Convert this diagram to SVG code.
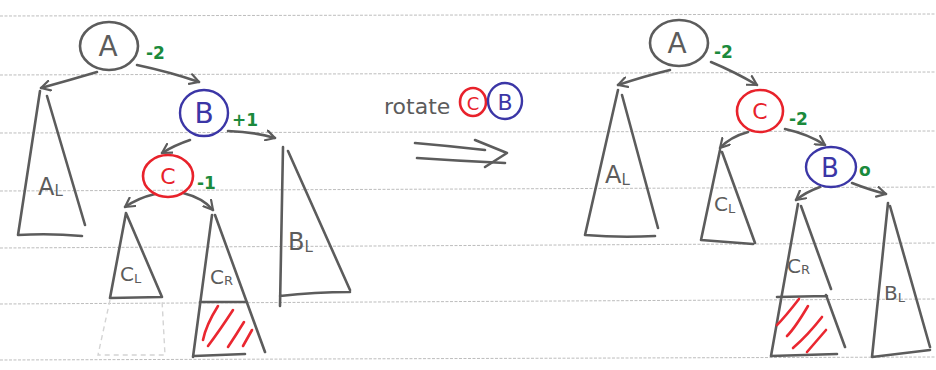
<svg xmlns="http://www.w3.org/2000/svg" width="936" height="370" viewBox="0 0 936 370">
<defs>
<style>
.paper{stroke:#bdbdbd;stroke-width:1;stroke-dasharray:3 1.5;fill:none}
.ink{stroke:#5c5c5c;stroke-width:2.6;fill:none;stroke-linecap:round;stroke-linejoin:round}
.faint{stroke:#d4d4d4;stroke-width:1.4;fill:none;stroke-dasharray:5 4}
.red{stroke:#e8222b;stroke-width:2.6;fill:none;stroke-linecap:round}
.blue{stroke:#3b36a6;stroke-width:2.4;fill:none}
.hatch{stroke:#ea2730;stroke-width:2.6;fill:none;stroke-linecap:round}
.lbl{font-family:"DejaVu Sans","Liberation Sans",sans-serif;fill:#5c5c5c}
.bal{font-family:"DejaVu Sans","Liberation Sans",sans-serif;fill:#1b8a3c;font-weight:bold;font-size:17px}
</style>
<marker id="ah" viewBox="0 0 12 12" refX="10" refY="6" markerWidth="12" markerHeight="12" markerUnits="userSpaceOnUse" orient="auto">
<path d="M1,1 L10,6 L1,11" fill="none" stroke="#5c5c5c" stroke-width="2.2" stroke-linecap="round" stroke-linejoin="round"/>
</marker>
</defs>
<rect width="936" height="370" fill="#ffffff"/>
<g id="paper">
<line class="paper" x1="0" y1="16" x2="936" y2="14"/>
<line class="paper" x1="0" y1="75" x2="936" y2="72"/>
<line class="paper" x1="0" y1="133" x2="936" y2="131"/>
<line class="paper" x1="0" y1="191" x2="936" y2="187"/>
<line class="paper" x1="0" y1="248" x2="936" y2="243"/>
<line class="paper" x1="0" y1="304" x2="936" y2="299"/>
<line class="paper" x1="0" y1="360" x2="936" y2="357"/>
</g>
<g id="connectors">
<path class="ink" d="M97,72 Q70,80 41,88" marker-end="url(#ah)"/>
<path class="ink" d="M137,65 Q170,72 199,82" marker-end="url(#ah)" stroke="#8a8a8a"/>
<path class="ink" d="M190,140 Q175,145 162,153" marker-end="url(#ah)"/>
<path class="ink" d="M228,131 Q255,132 275,138" marker-end="url(#ah)"/>
<path class="ink" d="M155,194 Q138,198 125,207" marker-end="url(#ah)"/>
<path class="ink" d="M183,193 Q203,198 213,210" marker-end="url(#ah)"/>
<path class="ink" d="M670,70 Q645,76 618,85" marker-end="url(#ah)"/>
<path class="ink" d="M711,62 Q735,72 757,85" marker-end="url(#ah)"/>
<path class="ink" d="M748,132 Q730,137 720,148" marker-end="url(#ah)"/>
<path class="ink" d="M785,129 Q808,134 825,145" marker-end="url(#ah)"/>
<path class="ink" d="M820,187 Q806,192 796,200" marker-end="url(#ah)"/>
<path class="ink" d="M852,183 Q870,190 886,194" marker-end="url(#ah)"/>
<path class="ink" d="M415,143 Q450,146 485,150"/>
<path class="ink" d="M417,158 Q460,161 505,163"/>
<path class="ink" d="M475,140 L507,153 L485,167"/>
</g>
<g id="rotate-label">
<text class="lbl" x="384" y="114" font-size="22">rotate</text>
<ellipse class="red" cx="473" cy="102" rx="13" ry="14"/>
<text x="473" y="110" font-family="DejaVu Sans,sans-serif" font-size="18" fill="#e8222b" text-anchor="middle">C</text>
<ellipse class="blue" cx="505" cy="101" rx="17" ry="18"/>
<text x="505" y="110" font-family="DejaVu Sans,sans-serif" font-size="22" fill="#3b36a6" text-anchor="middle">B</text>
</g>
<g id="L-A">
<ellipse class="ink" cx="109" cy="46" rx="29" ry="24"/>
<text class="lbl" x="108" y="56" font-size="28" text-anchor="middle">A</text>
<text class="bal" x="146" y="59">-2</text>
</g>
<g id="L-B">
<ellipse class="blue" cx="204" cy="113" rx="24" ry="23"/>
<text x="204" y="123" font-family="DejaVu Sans,sans-serif" font-size="28" fill="#3b36a6" text-anchor="middle">B</text>
<text class="bal" x="232" y="126">+1</text>
</g>
<g id="L-C">
<ellipse class="red" cx="168" cy="176" rx="25" ry="21"/>
<text x="168" y="184" font-family="DejaVu Sans,sans-serif" font-size="22" fill="#e8222b" text-anchor="middle">C</text>
<text class="bal" x="197" y="189">-1</text>
</g>
<g id="L-AL">
<path class="ink" d="M40,91 L18,235 Q50,233 82,236 M47,96 L85,225"/>
<text class="lbl" x="38" y="195" font-size="24">A<tspan font-size="15" dy="1">L</tspan></text>
</g>
<g id="L-BL">
<path class="ink" d="M283,147 L280,306 M280,296 Q315,292 350,292 M288,151 L350,290"/>
<text class="lbl" x="288" y="250" font-size="24">B<tspan font-size="15" dy="2">L</tspan></text>
</g>
<g id="L-CL">
<path class="ink" d="M126,213 L110,298 L162,297 L126,213"/>
<path class="faint" d="M110,300 L98,355 L165,355 L162,300"/>
<text class="lbl" x="120" y="281" font-size="20">C<tspan font-size="13" dy="2">L</tspan></text>
</g>
<g id="L-CR">
<path class="ink" d="M212,215 L193,357 M194,356 L245,354 M200,302 L247,302 M215,215 L265,352"/>
<text class="lbl" x="210" y="284" font-size="20">C<tspan font-size="13" dy="1">R</tspan></text>
<path class="hatch" d="M218,306 Q206,325 203,340 M233,310 Q220,330 208,346 M244,322 Q236,335 228,347 M252,330 L243,346"/>
</g>
<g id="R-A">
<ellipse class="ink" cx="679" cy="43" rx="29" ry="23"/>
<text class="lbl" x="677" y="53" font-size="28" text-anchor="middle">A</text>
<text class="bal" x="714" y="58">-2</text>
</g>
<g id="R-C">
<ellipse class="red" cx="760" cy="111" rx="23" ry="21"/>
<text x="760" y="119" font-family="DejaVu Sans,sans-serif" font-size="22" fill="#e8222b" text-anchor="middle">C</text>
<text class="bal" x="789" y="125">-2</text>
</g>
<g id="R-B">
<ellipse class="blue" cx="831" cy="167" rx="25" ry="20"/>
<text x="830" y="177" font-family="DejaVu Sans,sans-serif" font-size="26" fill="#3b36a6" text-anchor="middle">B</text>
<text class="bal" x="859" y="176" font-size="13">o</text>
</g>
<g id="R-AL">
<path class="ink" d="M618,90 L585,235 Q620,238 655,236 M622,95 L658,228"/>
<text class="lbl" x="605" y="183" font-size="24">A<tspan font-size="15" dy="2">L</tspan></text>
</g>
<g id="R-CL">
<path class="ink" d="M720,150 L701,240 L753,244 M722,152 L755,243"/>
<text class="lbl" x="714" y="211" font-size="20">C<tspan font-size="13" dy="2">L</tspan></text>
</g>
<g id="R-CR">
<path class="ink" d="M798,204 L771,356 L837,354 M801,206 L831,289 M777,297 L827,296 M826,295 L845,347"/>
<text class="lbl" x="787" y="273" font-size="20">C<tspan font-size="13" dy="1">R</tspan></text>
<path class="hatch" d="M799,299 Q785,317 777,325 M808,306 Q795,328 787,336 M822,317 Q808,335 793,348 M826,330 L807,352"/>
</g>
<g id="R-BL">
<path class="ink" d="M888,203 L872,357 L930,350 M890,206 L930,347"/>
<text class="lbl" x="884" y="300" font-size="20">B<tspan font-size="13" dy="2">L</tspan></text>
</g>
</svg>
